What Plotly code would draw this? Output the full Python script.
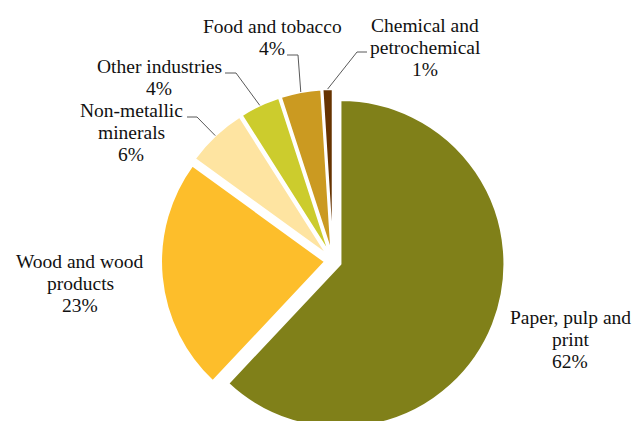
import math
import plotly.graph_objects as go

# ---- data ----
categories = ["Paper, pulp and print", "Wood and wood products", "Non-metallic minerals",
              "Other industries", "Food and tobacco", "Chemical and petrochemical"]
shares = [62, 23, 6, 4, 4, 1]
label_lines = [["Paper, pulp and", "print"], ["Wood and wood", "products"], ["Non-metallic", "minerals"],
               ["Other industries"], ["Food and tobacco"], ["Chemical and", "petrochemical"]]
colors = ["#808019", "#FDBE2B", "#FEE4A1", "#CCCC2D", "#CB9A21", "#663300"]

# ---- layout (pixels) ----
W, H = 635, 440
CX, CY, RBOX = 333, 261, 172
PULL = 0.0488
FONT = dict(family="Liberation Serif", size=19.5, color="#111111")
LINE_H = 22.2
# label centre x, first baseline y
label_pos = [(570, 324), (80, 268), (131, 117), (159, 73), (272, 33), (425, 32)]
# leader: (x_text_side, y, x_elbow) or None
leaders = [None, None, (187, 117, 197), (225, 73, 236), (287, 55, 298), (367, 52, 357)]


def px(x):
    return x / W


def py(y):
    return 1 - y / H


fig = go.Figure(go.Pie(
    values=shares, labels=categories, sort=False, direction="clockwise", rotation=0,
    pull=[PULL] * len(shares), textinfo="none", hoverinfo="label+percent",
    marker=dict(colors=colors, line=dict(color="white", width=2)),
    domain=dict(x=[px(CX - RBOX), px(CX + RBOX)], y=[py(CY + RBOX), py(CY - RBOX)]),
    showlegend=False,
))

total = sum(shares)
annotations = []
shapes = []
cum = 0
for i, v in enumerate(shares):
    pct = f"{round(100 * v / total)}%"
    lines = label_lines[i] + [pct]
    lx, ly = label_pos[i]
    for k, t in enumerate(lines):
        annotations.append(dict(
            x=px(lx), y=py(ly + k * LINE_H - 6.5), xref="paper", yref="paper",
            text=t, showarrow=False, xanchor="center", yanchor="middle", font=FONT))
    theta = 2 * math.pi * (cum + v / 2) / total
    ex = CX + RBOX * math.sin(theta)
    ey = CY - RBOX * math.cos(theta)
    if leaders[i] is not None:
        sx, sy, bx = leaders[i]
        shapes.append(dict(
            type="path", xref="paper", yref="paper",
            path=f"M {px(sx)} {py(sy)} L {px(bx)} {py(sy)} L {px(ex)} {py(ey)}",
            line=dict(color="#595959", width=1)))
    cum += v

fig.update_layout(
    width=W, height=H, margin=dict(l=0, r=0, t=0, b=0),
    paper_bgcolor="white", plot_bgcolor="white",
    font=dict(family="Liberation Serif"),
    annotations=annotations, shapes=shapes,
)

fig.write_html(
    "out.html",
    config={"displayModeBar": False},
    post_script="document.body.style.margin='0';document.body.style.overflow='hidden';"
                "document.documentElement.style.overflow='hidden';",
)
